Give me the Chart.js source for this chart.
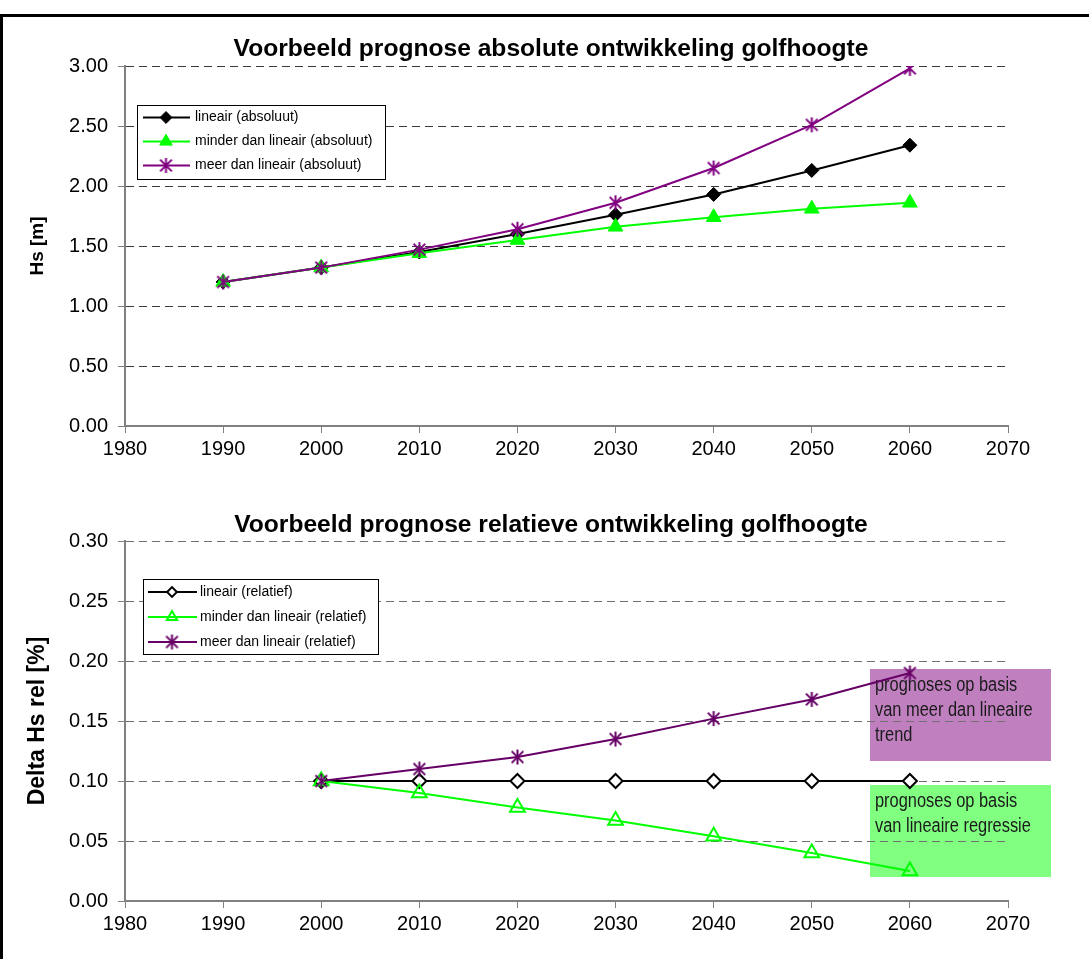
<!DOCTYPE html>
<html><head><meta charset="utf-8">
<script src="https://cdn.jsdelivr.net/npm/chart.js@4.4.1/dist/chart.umd.min.js"></script>
<style>
html,body{margin:0;padding:0;background:#fff;overflow:hidden;width:1089px;height:959px;}
#frame{position:absolute;left:0;top:14px;width:1200px;height:1000px;border-left:3px solid #000;border-top:3px solid #000;box-sizing:border-box;}
.wrap{position:absolute;left:0;width:1089px;}
#w1{top:0;height:480px}
#w2{top:480px;height:479px}
</style></head><body>
<div id="frame"></div>
<div class="wrap" id="w1"><canvas id="c1"></canvas></div>
<div class="wrap" id="w2"><canvas id="c2"></canvas></div>
<script>
// ---- data ----
const years = [1990, 2000, 2010, 2020, 2030, 2040, 2050, 2060];
const absLineair = [1.20, 1.32, 1.45, 1.60, 1.76, 1.93, 2.13, 2.34];
const absMinder  = [1.20, 1.32, 1.44, 1.55, 1.66, 1.74, 1.81, 1.86];
const absMeer    = [1.20, 1.32, 1.47, 1.64, 1.86, 2.15, 2.51, 2.98];

const relYears   = [2000, 2010, 2020, 2030, 2040, 2050, 2060];
const relLineair = [0.100, 0.100, 0.100, 0.100, 0.100, 0.100, 0.100];
const relMinder  = [0.100, 0.090, 0.078, 0.067, 0.054, 0.040, 0.025];
const relMeer    = [0.100, 0.110, 0.120, 0.135, 0.152, 0.168, 0.190];

const xTickValues   = [1980, 1990, 2000, 2010, 2020, 2030, 2040, 2050, 2060, 2070];
const yAbsTicks     = [0, 0.5, 1.0, 1.5, 2.0, 2.5, 3.0];
const yRelTicks     = [0, 0.05, 0.10, 0.15, 0.20, 0.25, 0.30];

const absLabels = ['lineair (absoluut)', 'minder dan lineair (absoluut)', 'meer dan lineair (absoluut)'];
const relLabels = ['lineair (relatief)', 'minder dan lineair (relatief)', 'meer dan lineair (relatief)'];
const titleAbs = 'Voorbeeld prognose absolute ontwikkeling golfhoogte';
const titleRel = 'Voorbeeld prognose relatieve ontwikkeling golfhoogte';
const yTitleAbs = 'Hs [m]';
const yTitleRel = 'Delta Hs rel [%]';
const noteMeer = ['prognoses op basis', 'van meer dan lineaire', 'trend'];
const noteLin  = ['prognoses op basis', 'van lineaire regressie'];

// ---- helpers ----
const FONT = 'Liberation Sans, Arial, Helvetica, sans-serif';
Chart.defaults.font.family = FONT;
Chart.defaults.color = '#000';

function pts(xs, ys) { return xs.map((x, i) => ({x: x, y: ys[i]})); }

function makeAsterisk(color, r, lw) {
  const s = Math.ceil(2 * r + lw + 2);
  const c = document.createElement('canvas');
  c.width = s; c.height = s;
  const g = c.getContext('2d');
  g.strokeStyle = color; g.lineWidth = lw;
  const m = s / 2, d = r * 0.78;
  g.beginPath();
  g.moveTo(m, m - r); g.lineTo(m, m + r);
  g.moveTo(m - d, m - d); g.lineTo(m + d, m + d);
  g.moveTo(m + d, m - d); g.lineTo(m - d, m + d);
  g.stroke();
  return c;
}

const boxLegend = {
  id: 'boxLegend',
  afterDraw(chart, args, o) {
    if (!o || !o.w) return;
    const {ctx, chartArea} = chart;
    const x0 = Math.round(chartArea.left + o.dx), y0 = Math.round(chartArea.top + o.dy);
    ctx.save();
    ctx.fillStyle = '#fff';
    ctx.fillRect(x0, y0, o.w, o.h);
    ctx.strokeStyle = '#000'; ctx.lineWidth = 1;
    ctx.strokeRect(x0 + 0.5, y0 + 0.5, o.w, o.h);
    chart.data.datasets.forEach((ds, i) => {
      const y = y0 + o.firstRow + i * o.rowGap;
      ctx.strokeStyle = ds.borderColor; ctx.lineWidth = ds.borderWidth;
      ctx.beginPath(); ctx.moveTo(x0 + o.lineX0, y); ctx.lineTo(x0 + o.lineX1, y); ctx.stroke();
      ctx.fillStyle = ds.pointBackgroundColor; ctx.strokeStyle = ds.pointBorderColor;
      ctx.lineWidth = ds.pointBorderWidth;
      Chart.helpers.drawPoint(ctx, {pointStyle: ds.pointStyle, radius: ds.pointRadius * o.markScale, rotation: 0, borderWidth: ds.pointBorderWidth}, x0 + o.markX, y);
      ctx.fillStyle = '#000'; ctx.font = o.font; ctx.textBaseline = 'middle'; ctx.textAlign = 'left';
      ctx.fillText(ds.label, x0 + o.textX, y);
    });
    ctx.restore();
  }
};

const noteBoxes = {
  id: 'noteBoxes',
  beforeDraw(chart, args, o) {
    if (!o || !o.boxes) return;
    const xs = chart.scales.x, ys = chart.scales.y, ctx = chart.ctx;
    ctx.save();
    o.boxes.forEach(b => {
      const L = Math.round(xs.getPixelForValue(b.x0)), R = Math.round(xs.getPixelForValue(b.x1));
      const T = Math.round(ys.getPixelForValue(b.y0)), B = Math.round(ys.getPixelForValue(b.y1));
      ctx.fillStyle = b.color;
      ctx.fillRect(L, T, R - L, B - T);
      ctx.fillStyle = '#1a1a1a'; ctx.font = o.font; ctx.textBaseline = 'middle'; ctx.textAlign = 'left';
      b.lines.forEach((t, k) => {
        ctx.save();
        ctx.translate(L + o.padX, T + o.firstLine + k * o.lineGap);
        ctx.scale(o.squeeze, 1);
        ctx.fillText(t, 0, 0);
        ctx.restore();
      });
    });
    ctx.restore();
  }
};

function makeConfig(p) {
  return {
    type: 'line',
    data: { datasets: p.datasets },
    plugins: [noteBoxes, boxLegend],
    options: {
      responsive: true, maintainAspectRatio: false, animation: false, devicePixelRatio: 1,
      layout: { padding: { left: 13, right: 0, top: 0, bottom: 0 } },
      elements: { line: { tension: 0 } },
      plugins: {
        legend: { display: false },
        tooltip: { enabled: false },
        title: {
          display: true, text: p.title, color: '#000',
          font: { size: 24.6, weight: 'bold', family: FONT },
          padding: { top: p.titleTop, bottom: p.titleBottom }
        },
        boxLegend: p.legend,
        noteBoxes: p.notes || {}
      },
      scales: {
        x: {
          type: 'linear', min: 1980, max: 2070,
          afterBuildTicks: s => { s.ticks = xTickValues.map(v => ({value: v})); },
          afterFit: s => { s.height = p.xHeight; },
          ticks: { callback: v => String(v), font: { size: 20 }, color: '#000', padding: 4, maxRotation: 0, autoSkip: false },
          grid: { drawOnChartArea: false, drawTicks: true, tickLength: 7, tickColor: '#808080', tickWidth: 1 },
          border: { color: '#808080', width: 2 }
        },
        y: {
          type: 'linear', position: 'left', min: p.yTicks[0], max: p.yTicks[p.yTicks.length - 1],
          afterBuildTicks: s => { s.ticks = p.yTicks.map(v => ({value: v})); },
          afterFit: s => { s.width = 112; },
          ticks: { callback: v => Number(v).toFixed(2), font: { size: 20 }, color: '#000', padding: 10 },
          grid: {
            color: c => (c.tick && c.tick.value === 0) ? 'rgba(0,0,0,0)' : p.gridColor,
            lineWidth: 1, drawTicks: true, tickLength: 7, tickColor: '#808080', tickWidth: 1, tickBorderDash: []
          },
          border: { color: '#808080', width: 2, dash: [8, 5] },
          title: { display: true, text: p.yTitle, color: '#000', font: { size: p.yTitleSize, weight: 'bold' }, padding: { top: p.yTitlePad, bottom: 0 } }
        },
        y2: {
          type: 'linear', position: 'right', display: true,
          grid: { display: false, drawTicks: false }, border: { display: false },
          ticks: { display: false },
          afterFit: s => { s.width = 81; }
        }
      }
    }
  };
}

// ---- top chart ----
const purpleA = '#800080';
const purpleR = '#660066';
const green = '#00ff00';

new Chart(document.getElementById('c1'), makeConfig({
  title: titleAbs, titleTop: 34, titleBottom: 2.5, xHeight: 54, yTicks: yAbsTicks,
  yTitle: yTitleAbs, yTitleSize: 19, yTitlePad: 13,
  gridColor: '#3a3a3a',
  legend: { dx: 12, dy: 39, w: 248, h: 74, firstRow: 12.5, rowGap: 24, lineX0: 6, lineX1: 53, markX: 29, textX: 58, markScale: 0.85, font: '14px ' + FONT },
  datasets: [
    { label: absLabels[0], data: pts(years, absLineair), yAxisID: 'y', order: 3,
      borderColor: '#000', borderWidth: 2, pointStyle: 'rectRot', pointRadius: 7,
      pointBackgroundColor: '#000', pointBorderColor: '#000', pointBorderWidth: 1 },
    { label: absLabels[1], data: pts(years, absMinder), yAxisID: 'y', order: 2,
      borderColor: green, borderWidth: 2, pointStyle: 'triangle', pointRadius: 8.5,
      pointBackgroundColor: green, pointBorderColor: green, pointBorderWidth: 1 },
    { label: absLabels[2], data: pts(years, absMeer), yAxisID: 'y', order: 1,
      borderColor: purpleA, borderWidth: 2, pointStyle: makeAsterisk(purpleA, 7.5, 2), pointRadius: 7.5,
      pointBackgroundColor: purpleA, pointBorderColor: purpleA, pointBorderWidth: 0 }
  ]
}));

// ---- bottom chart ----
new Chart(document.getElementById('c2'), makeConfig({
  title: titleRel, titleTop: 30, titleBottom: 1.5, xHeight: 58, yTicks: yRelTicks,
  yTitle: yTitleRel, yTitleSize: 23, yTitlePad: 11,
  gridColor: '#707070',
  legend: { dx: 18, dy: 38, w: 235, h: 75, firstRow: 13, rowGap: 25, lineX0: 5, lineX1: 54, markX: 29, textX: 57, markScale: 0.7, font: '14px ' + FONT },
  notes: {
    font: '20px ' + FONT, padX: 5, firstLine: 16, lineGap: 25, squeeze: 0.82,
    boxes: [
      { x0: 2055.9, x1: 2074.4, y0: 0.1933, y1: 0.1167, color: '#c080c0', lines: noteMeer },
      { x0: 2055.9, x1: 2074.4, y0: 0.0967, y1: 0.0200, color: '#80ff80', lines: noteLin }
    ]
  },
  datasets: [
    { label: relLabels[0], data: pts(relYears, relLineair), yAxisID: 'y', order: 3,
      borderColor: '#000', borderWidth: 2, pointStyle: 'rectRot', pointRadius: 7,
      pointBackgroundColor: '#fff', pointBorderColor: '#000', pointBorderWidth: 2 },
    { label: relLabels[1], data: pts(relYears, relMinder), yAxisID: 'y', order: 2,
      borderColor: green, borderWidth: 2, pointStyle: 'triangle', pointRadius: 8.5,
      pointBackgroundColor: 'rgba(255,255,255,0)', pointBorderColor: green, pointBorderWidth: 2 },
    { label: relLabels[2], data: pts(relYears, relMeer), yAxisID: 'y', order: 1,
      borderColor: purpleR, borderWidth: 2, pointStyle: makeAsterisk(purpleR, 7.5, 2), pointRadius: 7.5,
      pointBackgroundColor: purpleR, pointBorderColor: purpleR, pointBorderWidth: 0 }
  ]
}));
</script>
</body></html>
